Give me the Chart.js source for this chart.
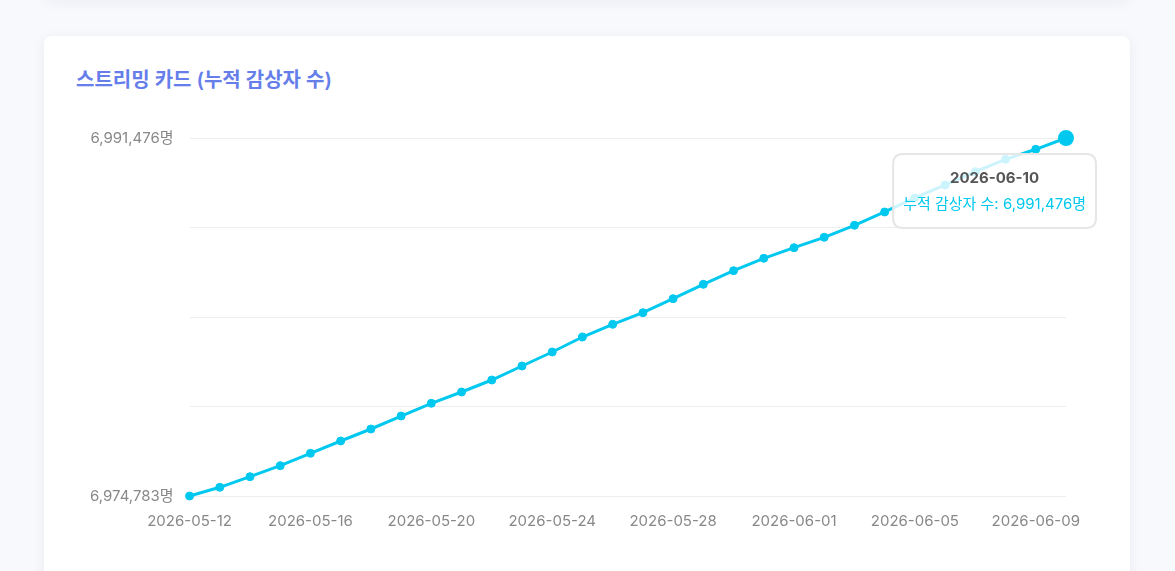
<!DOCTYPE html>
<html lang="ko">
<head>
<meta charset="utf-8">
<script src="https://cdn.jsdelivr.net/npm/chart.js@4/dist/chart.umd.min.js"></script>
<style>
  html, body { margin: 0; padding: 0; }
  body { width: 1175px; height: 571px; overflow: hidden; background: #f8f9fc; position: relative;
         font-family: Inter, 'Noto Sans CJK KR', sans-serif; }
  .prev-card { position: absolute; left: 44px; top: -200px; width: 1086px; height: 200px; background: #fff;
               border-radius: 8px; box-shadow: 0 2px 14px rgba(30, 40, 90, 0.06); }
  .card { position: absolute; left: 44px; top: 36px; width: 1086px; height: 600px; background: #fff;
          border-radius: 8px; box-shadow: 0 2px 14px rgba(30, 40, 90, 0.06); }
  .title { position: absolute; left: 32px; top: 28px; margin: 0; font-size: 20px; font-weight: 600;
           font-family: Inter, 'Noto Sans CJK KR', sans-serif;
           color: #667eea; line-height: 32px; white-space: nowrap; }
  .chart-box { position: absolute; left: 30px; top: 77px; width: 1024px; height: 435px; }
</style>
</head>
<body>
<div class="prev-card"></div>
<div class="card">
  <h3 class="title">스트리밍 카드 (누적 감상자 수)</h3>
  <div class="chart-box"><canvas id="c"></canvas></div>
</div>
<script>
const dates = [
  '2026-05-12','2026-05-13','2026-05-14','2026-05-15','2026-05-16','2026-05-17','2026-05-18','2026-05-19',
  '2026-05-20','2026-05-21','2026-05-22','2026-05-23','2026-05-24','2026-05-25','2026-05-26','2026-05-27',
  '2026-05-28','2026-05-29','2026-05-30','2026-05-31','2026-06-01','2026-06-02','2026-06-03','2026-06-04',
  '2026-06-05','2026-06-06','2026-06-07','2026-06-08','2026-06-09','2026-06-10'
];
const listeners = [
  6974783, 6975189, 6975683, 6976196, 6976774, 6977348, 6977907, 6978513,
  6979106, 6979633, 6980192, 6980845, 6981498, 6982197, 6982789, 6983330,
  6983983, 6984655, 6985289, 6985867, 6986361, 6986846, 6987406, 6988026,
  6988679, 6989285, 6989905, 6990483, 6990950, 6991476
];
const seriesLabel = '누적 감상자 수';
const unit = '명';

const fmt = v => Math.round(v).toLocaleString('en-US') + unit;
const FONT = "Inter, 'Noto Sans CJK KR', sans-serif";
const LINE = '#00c8ef';

Chart.Tooltip.positioners.offsetRight = function (items) {
  if (!items.length) return false;
  const el = items[0].element;
  return { x: el.x + 20, y: el.y };
};

const yMin = Math.min(...listeners), yMax = Math.max(...listeners);

const chart = new Chart(document.getElementById('c'), {
  type: 'line',
  data: {
    labels: dates,
    datasets: [{
      label: seriesLabel,
      data: listeners,
      borderColor: LINE,
      backgroundColor: LINE,
      borderWidth: 3,
      pointRadius: 4,
      pointBorderWidth: 1,
      pointBackgroundColor: LINE,
      pointBorderColor: LINE,
      pointHoverRadius: 7,
      pointHoverBorderWidth: 2,
      pointHoverBackgroundColor: LINE,
      pointHoverBorderColor: LINE,
      tension: 0,
      fill: false,
      clip: false
    }]
  },
  options: {
    responsive: true,
    maintainAspectRatio: false,
    animation: false,
    layout: { padding: { left: 0, right: 32, top: 0, bottom: 2 } },
    plugins: {
      legend: { display: false },
      tooltip: {
        position: 'offsetRight',
        xAlign: 'right',
        yAlign: 'top',
        caretSize: 0,
        caretPadding: 16,
        cornerRadius: 10,
        backgroundColor: 'rgba(255,255,255,0.8)',
        borderColor: '#e6e6e6',
        borderWidth: 2,
        padding: { top: 15, bottom: 15, left: 10, right: 10 },
        displayColors: false,
        titleAlign: 'center',
        bodyAlign: 'center',
        titleColor: '#555555',
        bodyColor: LINE,
        titleFont: { family: FONT, size: 15, weight: 'bold' },
        bodyFont: { family: FONT, size: 15 },
        titleMarginBottom: 8,
        callbacks: {
          label: ctx => seriesLabel + ': ' + fmt(ctx.parsed.y)
        }
      }
    },
    scales: {
      x: {
        grid: { display: false, drawTicks: false },
        border: { display: false },
        ticks: {
          autoSkip: false,
          maxRotation: 0,
          padding: 16,
          color: '#888888',
          font: { family: FONT, size: 15 },
          callback: function (v, i) { return i % 4 === 0 ? this.getLabelForValue(v) : ''; }
        }
      },
      y: {
        min: yMin,
        max: yMax,
        grid: { color: '#eeeeee', drawTicks: false },
        border: { display: false },
        afterBuildTicks: scale => {
          const t = [];
          for (let i = 0; i <= 4; i++) t.push({ value: yMin + (yMax - yMin) * i / 4 });
          scale.ticks = t;
        },
        ticks: {
          padding: 16,
          color: '#888888',
          font: { family: FONT, size: 15 },
          callback: (v, i, ticks) => (i === 0 || i === ticks.length - 1) ? fmt(v) : ''
        }
      }
    }
  }
});

const active = [{ datasetIndex: 0, index: listeners.length - 1 }];
chart.setActiveElements(active);
chart.tooltip.setActiveElements(active, { x: 0, y: 0 });
chart.update('none');
</script>
</body>
</html>
